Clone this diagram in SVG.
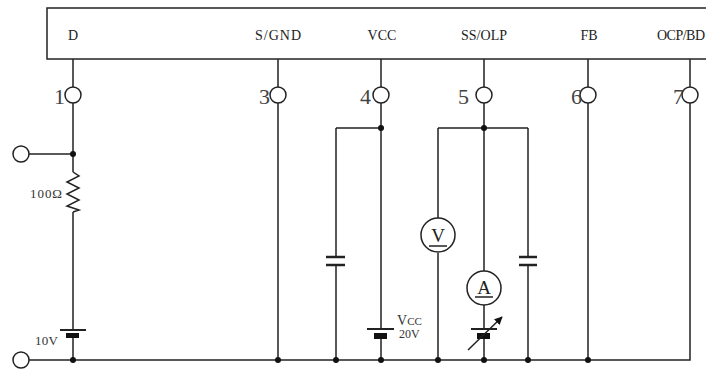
<svg xmlns="http://www.w3.org/2000/svg" width="706" height="369" viewBox="0 0 706 369">
<defs>
<style>
.w{fill:none;stroke:#222;stroke-width:1.5}
.pc{fill:#fff;stroke:#222;stroke-width:1.5}
.dot{fill:#111}
.lbl{font-family:"Liberation Serif","Times New Roman",serif;font-size:14px;fill:#222;text-anchor:middle}
.meter{font-family:"Liberation Serif","Times New Roman",serif;font-size:19px;fill:#222;text-anchor:middle}
.num{font-family:"Liberation Serif","Times New Roman",serif;font-size:22px;fill:#444;text-anchor:end}
.sm{font-family:"Liberation Serif","Times New Roman",serif;font-size:13px;fill:#333}
.plate{fill:none;stroke:#222;stroke-width:2}
.cp{fill:none;stroke:#222;stroke-width:2.5}
.thick{fill:#111}
</style>
<marker id="ah" viewBox="0 0 10 10" refX="9" refY="5" markerWidth="8" markerHeight="8" orient="auto" markerUnits="userSpaceOnUse">
<path d="M0,0 L10,5 L0,10 z" fill="#111"/>
</marker>
</defs>
<rect width="706" height="369" fill="#fff"/>
<g id="ic">
<rect x="47" y="8" width="700" height="51" class="w"/>
<text class="lbl" x="73" y="40">D</text>
<text class="lbl" x="278" y="40" textLength="46">S/GND</text>
<text class="lbl" x="382" y="40">VCC</text>
<text class="lbl" x="484" y="40" textLength="46">SS/OLP</text>
<text class="lbl" x="589" y="40">FB</text>
<text class="lbl" x="657" y="40" style="text-anchor:start" textLength="48">OCP/BD</text>
</g>
<g id="connectors">
<path class="w" d="M73,59 V87 M73,103 V172 M73,212 V330 M73,338 V360"/>
<path class="w" d="M29,154 H73"/>
<path class="w" d="M278,59 V87 M278,103 V360"/>
<path class="w" d="M381,59 V87 M381,103 V329 M381,339 V360"/>
<path class="w" d="M336,128 H381 M336,128 V257 M336,265 V360"/>
<path class="w" d="M484,59 V87 M484,103 V271 M484,305 V329 M484,339 V360"/>
<path class="w" d="M438,128 H528 M438,128 V218 M438,253 V360 M528,128 V257 M528,265 V360"/>
<path class="w" d="M588,59 V87 M588,103 V360"/>
<path class="w" d="M690,59 V87 M690,103 V360 H29"/>
</g>
<g id="pins">
<circle class="pc" cx="73" cy="95" r="8"/>
<circle class="pc" cx="278" cy="95" r="8"/>
<circle class="pc" cx="381" cy="95" r="8"/>
<circle class="pc" cx="484" cy="95" r="8"/>
<circle class="pc" cx="588" cy="95" r="8"/>
<circle class="pc" cx="690" cy="95" r="8"/>
<text class="num" x="65" y="104">1</text>
<text class="num" x="270" y="104">3</text>
<text class="num" x="371" y="104">4</text>
<text class="num" x="469" y="104">5</text>
<text class="num" x="582" y="104">6</text>
<text class="num" x="684" y="104">7</text>
</g>
<g id="terminals">
<circle class="pc" cx="21" cy="154" r="8"/>
<circle class="pc" cx="21" cy="360" r="8"/>
</g>
<g id="dots">
<circle class="dot" cx="73" cy="154" r="3"/>
<circle class="dot" cx="73" cy="360" r="3"/>
<circle class="dot" cx="278" cy="360" r="3"/>
<circle class="dot" cx="336" cy="360" r="3"/>
<circle class="dot" cx="381" cy="360" r="3"/>
<circle class="dot" cx="381" cy="128" r="3"/>
<circle class="dot" cx="438" cy="360" r="3"/>
<circle class="dot" cx="484" cy="360" r="3"/>
<circle class="dot" cx="484" cy="128" r="3"/>
<circle class="dot" cx="528" cy="360" r="3"/>
<circle class="dot" cx="588" cy="360" r="3"/>
</g>
<g id="resistor">
<polyline class="w" points="73,172 79,176 67,182 79,188 67,194 79,200 67,206 79,210 73,212"/>
<text class="sm" x="30" y="198" textLength="32">100Ω</text>
</g>
<g id="battery10">
<line class="plate" x1="60" y1="330" x2="86" y2="330"/>
<rect class="thick" x="66" y="333" width="13" height="5"/>
<text class="sm" x="35" y="345" textLength="23">10V</text>
</g>
<g id="cap1">
<line class="cp" x1="326" y1="257" x2="345" y2="257"/>
<line class="cp" x1="326" y1="265" x2="345" y2="265"/>
</g>
<g id="vccbattery">
<line class="plate" x1="367" y1="329" x2="394" y2="329"/>
<rect class="thick" x="374" y="333" width="13" height="6"/>
<text class="sm" x="397" y="325"><tspan style="font-size:14px">V</tspan><tspan style="font-size:11px">CC</tspan></text>
<text class="sm" x="399" y="338" style="font-size:12px">20V</text>
</g>
<g id="voltmeter">
<circle class="pc" cx="438" cy="235" r="17"/>
<text class="meter" x="438" y="242">V</text>
<line class="w" x1="429" y1="246" x2="447" y2="246"/>
</g>
<g id="ammeter">
<circle class="pc" cx="484" cy="288" r="17"/>
<text class="meter" x="484" y="294">A</text>
<line class="w" x1="475" y1="297" x2="493" y2="297"/>
</g>
<g id="varbattery">
<line class="plate" x1="471" y1="329" x2="497" y2="329"/>
<rect class="thick" x="477" y="333" width="13" height="6"/>
<line class="w" x1="468" y1="350" x2="502" y2="317" marker-end="url(#ah)"/>
</g>
<g id="cap2">
<line class="cp" x1="519" y1="257" x2="537" y2="257"/>
<line class="cp" x1="519" y1="265" x2="537" y2="265"/>
</g>
</svg>
